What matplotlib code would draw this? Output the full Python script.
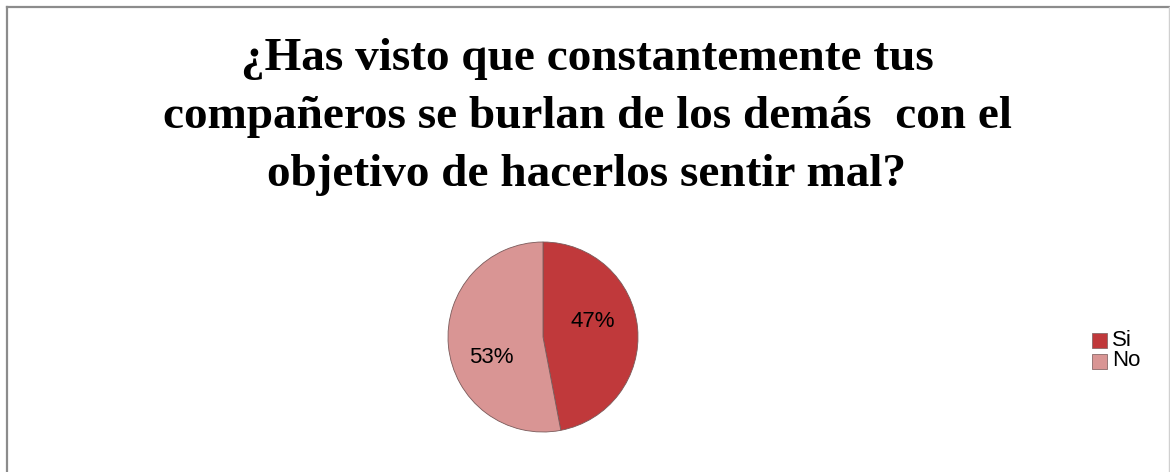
import numpy as np
import matplotlib.pyplot as plt
from matplotlib.lines import Line2D
from matplotlib.patches import Rectangle

labels = ["Si", "No"]
values = [47, 53]
colors = ["#C0393B", "#D99594"]

title_lines = [
    "¿Has visto que constantemente tus",
    "compañeros se burlan de los demás  con el",
    "objetivo de hacerlos sentir mal?",
]

# where Excel put the percentage labels (axes units, pie radius = 1)
label_pos = [(0.52, 0.16), (-0.54, -0.22)]

W, H = 1170, 472
fig = plt.figure(figsize=(W / 100, H / 100), dpi=100)

# title, one text per line
for i, line in enumerate(title_lines):
    fig.text(587 / W, 1 - (70 + i * 58) / H, line, ha="center", va="baseline",
             family="Liberation Serif", fontweight="bold", fontsize=34)

# pie
cx, cy, r = 543, 337, 95
ax = fig.add_axes([(cx - r) / W, 1 - (cy + r) / H, 2 * r / W, 2 * r / H])
wedges, texts = ax.pie(values, colors=colors, startangle=90, counterclock=False,
                       wedgeprops=dict(edgecolor="#7a5a5a", linewidth=0.6))
ax.set_aspect("auto")
ax.set_xlim(-1, 1)
ax.set_ylim(-1, 1)
for (x, y), v in zip(label_pos, values):
    ax.text(x, y, f"{v}%", ha="center", va="center",
            family="Liberation Sans", fontsize=16)

# legend, drawn by hand to match Excel spacing
for i, (lab, c) in enumerate(zip(labels, colors)):
    yc = 1 - (340 + i * 21) / H
    fig.add_artist(Rectangle((1092 / W, yc - 8 / H), 15 / W, 15 / H, facecolor=c,
                             edgecolor="#8a6a6a", linewidth=0.6,
                             transform=fig.transFigure))
    fig.text(1112 / W, yc, lab, ha="left", va="center",
             family="Liberation Sans", fontsize=16)

# chart border
fig.add_artist(Line2D([7 / W, 7 / W], [0, 1 - 7 / H], color="#8c8c8c", lw=1.6,
                      transform=fig.transFigure))
fig.add_artist(Line2D([7 / W, 1169 / W], [1 - 7 / H, 1 - 7 / H], color="#8c8c8c", lw=1.6,
                      transform=fig.transFigure))
fig.add_artist(Line2D([1169 / W, 1169 / W], [0, 1 - 7 / H], color="#d0d0d0", lw=1,
                      transform=fig.transFigure))

fig.savefig("out.png", dpi=100)
